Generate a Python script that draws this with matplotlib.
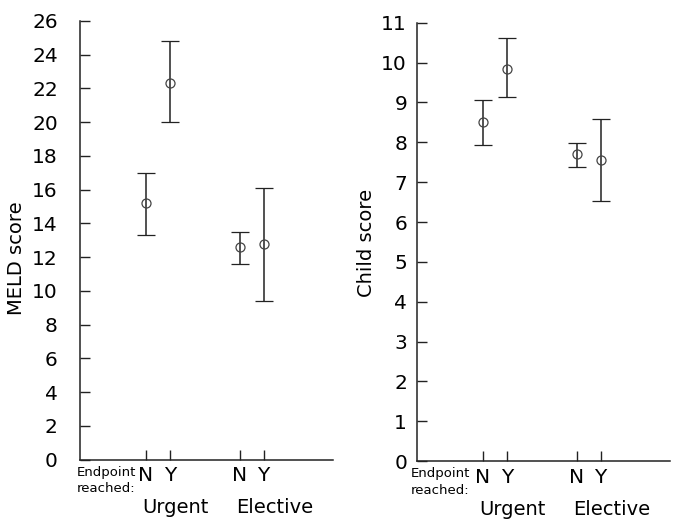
import numpy as np
import matplotlib
matplotlib.use('Agg')
import matplotlib.pyplot as plt

groups = ['N', 'Y', 'N', 'Y']
admissions = ['Urgent', 'Elective']

meld_mean = [15.2, 22.3, 12.6, 12.8]
meld_low = [13.3, 20.0, 11.6, 9.4]
meld_high = [17.0, 24.8, 13.5, 16.1]

child_mean = [8.5, 9.85, 7.7, 7.55]
child_low = [7.93, 9.13, 7.38, 6.52]
child_high = [9.07, 10.63, 7.99, 8.59]

plt.rcParams['font.family'] = ['DejaVu Sans']
LINE = '#222222'
xpos = np.array([2.63, 3.6, 6.37, 7.33])


def panel(ax, mean, low, high, ymax, ylabel, ypad, label_xy, endpoint_x):
    mean = np.array(mean)
    yerr = [mean - np.array(low), np.array(high) - mean]
    ax.errorbar(xpos, mean, yerr=yerr, fmt='o', color=LINE, ecolor=LINE,
                mfc='none', mec='#444444', ms=6.5, mew=0.9, elinewidth=1.1,
                capsize=6.8, capthick=1.1)
    ax.set_xlim(0, 10.1)
    ax.set_ylim(0, ymax)
    step = 2 if ymax > 15 else 1
    ax.set_yticks(np.arange(0, ymax + 1, step))
    ax.set_xticks(xpos)
    ax.set_xticklabels(groups)
    for s in ['top', 'right']:
        ax.spines[s].set_visible(False)
    for s in ['left', 'bottom']:
        ax.spines[s].set_color(LINE)
        ax.spines[s].set_linewidth(1.1)
    ax.tick_params(axis='y', direction='in', length=7, width=1, colors=LINE,
                   labelcolor='black', labelsize=14.5, pad=ypad)
    ax.tick_params(axis='x', direction='in', length=7, width=1, colors=LINE,
                   labelcolor='black', labelsize=14.5, pad=5)
    ax.set_ylabel(ylabel, fontsize=14)
    ax.yaxis.set_label_coords(*label_xy)
    tr = ax.get_xaxis_transform()
    ax.text(xpos[0] - 0.15, -0.122, admissions[0], transform=tr, fontsize=14,
            ha='left', va='baseline')
    ax.text(xpos[2] - 0.15, -0.122, admissions[1], transform=tr, fontsize=14,
            ha='left', va='baseline')
    ax.text(endpoint_x, -0.014, 'Endpoint\nreached:', transform=ax.transAxes,
            fontsize=9.5, ha='left', va='top', linespacing=1.35)


fig = plt.figure(figsize=(6.81, 5.24), dpi=100)
ax1 = fig.add_axes([0.1175, 0.123, 0.3715, 0.837])
ax2 = fig.add_axes([0.612, 0.120, 0.372, 0.8365])

panel(ax1, meld_mean, meld_low, meld_high, 26, 'MELD score', 16,
      (-0.215, 0.46), -0.014)
panel(ax2, child_mean, child_low, child_high, 11, 'Child score', 7,
      (-0.16, 0.497), -0.024)

fig.savefig('out.png', dpi=100)
